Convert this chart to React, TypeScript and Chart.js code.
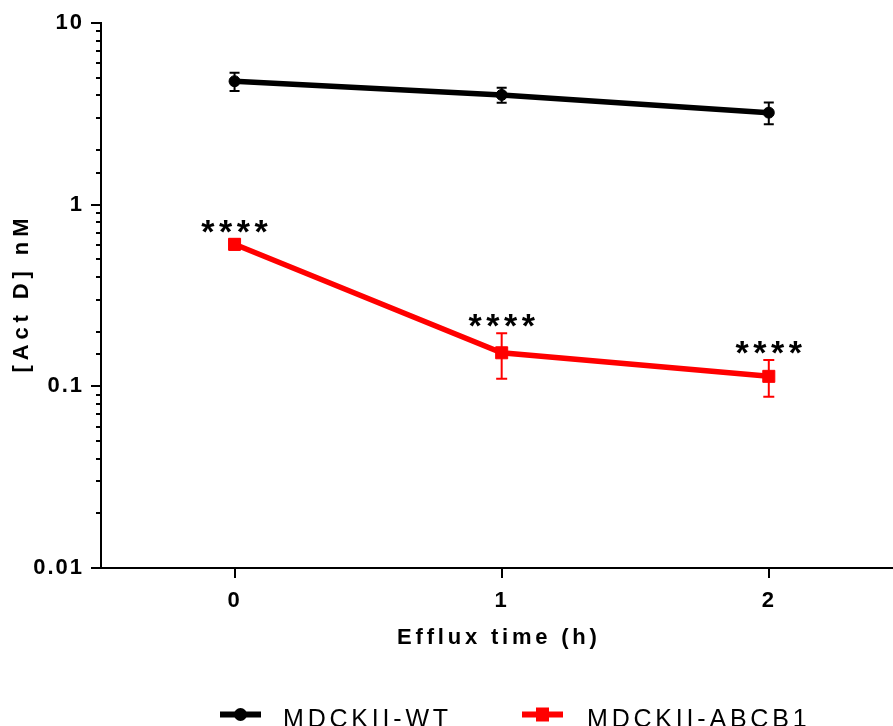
import React, { useEffect, useRef } from 'react';
import { Chart, registerables } from 'chart.js';

Chart.register(...registerables);

// ---- data ----
const timePoints = [0, 1, 2];
const wtMeans = [4.78, 4.02, 3.21];
const wtErrors = [0.55, 0.38, 0.44];
const abcb1Means = [0.605, 0.153, 0.1135];
const abcb1Errors = [0.04, 0.043, 0.026];
const significance = ['****', '****', '****'];
const seriesNames = ['MDCKII-WT', 'MDCKII-ABCB1'];
const yMajorTicks = [0.01, 0.1, 1, 10];
const yTickLabels = ['0.01', '0.1', '1', '10'];
const xTickValues = [0, 1, 2];
const xTickLabels = ['0', '1', '2'];
const xTitle = 'Efflux time (h)';
const yTitle = '[Act D] nM';

const FONT = '"Liberation Sans", Arial, Helvetica, sans-serif';

const isMajor = (v: number) => {
  const l = Math.log10(v);
  return Math.abs(l - Math.round(l)) < 1e-6;
};

const customPlugin = {
  id: 'customDecor',
  beforeDraw(chart: any) {
    chart.ctx.letterSpacing = '2px';
  },
  beforeDatasetsDraw(chart: any) {
    const ctx = chart.ctx;
    const ys = chart.scales.y;
    chart.data.datasets.forEach((ds: any, i: number) => {
      const meta = chart.getDatasetMeta(i);
      ctx.save();
      ctx.strokeStyle = ds.borderColor;
      ctx.lineWidth = 2;
      const cap = ds.capHalf;
      meta.data.forEach((pt: any, j: number) => {
        const v = ds.data[j].y;
        const e = ds.errors[j];
        const top = ys.getPixelForValue(v + e);
        const bot = ys.getPixelForValue(v - e);
        ctx.beginPath();
        ctx.moveTo(pt.x, top);
        ctx.lineTo(pt.x, bot);
        ctx.moveTo(pt.x - cap, top);
        ctx.lineTo(pt.x + cap, top);
        ctx.moveTo(pt.x - cap, bot);
        ctx.lineTo(pt.x + cap, bot);
        ctx.stroke();
      });
      ctx.restore();
    });
  },
  afterDraw(chart: any) {
    const ctx = chart.ctx;
    const xs = chart.scales.x;
    const ys = chart.scales.y;
    const area = chart.chartArea;
    ctx.save();
    ctx.letterSpacing = '0px';
    // tick marks
    ctx.strokeStyle = '#000';
    ctx.lineWidth = 2;
    ctx.beginPath();
    ys.ticks.forEach((t: any) => {
      const py = Math.round(ys.getPixelForValue(t.value));
      const len = isMajor(t.value) ? 10 : 5;
      ctx.moveTo(area.left - len, py);
      ctx.lineTo(area.left, py);
    });
    xs.ticks.forEach((t: any) => {
      const px = Math.round(xs.getPixelForValue(t.value));
      ctx.moveTo(px, area.bottom);
      ctx.lineTo(px, area.bottom + 10);
    });
    ctx.stroke();

    // axis titles
    ctx.fillStyle = '#000';
    ctx.font = `bold 22px ${FONT}`;
    ctx.textAlign = 'center';
    ctx.textBaseline = 'alphabetic';
    ctx.letterSpacing = '3.8px';
    ctx.fillText(xTitle, (area.left + area.right) / 2 + 1.9, area.bottom + 76);
    ctx.save();
    ctx.translate(28, (area.top + area.bottom) / 2);
    ctx.rotate(-Math.PI / 2);
    ctx.letterSpacing = '4.9px';
    ctx.fillText(yTitle, 2.4, 0);
    ctx.restore();

    // significance stars
    const ab = chart.data.datasets[1];
    const abMeta = chart.getDatasetMeta(1);
    ctx.font = `bold 34px ${FONT}`;
    ctx.letterSpacing = '4.5px';
    ctx.textAlign = 'center';
    ctx.textBaseline = 'alphabetic';
    abMeta.data.forEach((pt: any, j: number) => {
      const top = ys.getPixelForValue(ab.data[j].y + ab.errors[j]);
      ctx.fillText(significance[j], pt.x + 2.25, top + 4);
    });

    // legend
    const lineX = [220, 522];
    const textX = [283, 587];
    const ly = 714.5;
    ctx.font = `25px ${FONT}`;
    ctx.letterSpacing = '3.8px';
    ctx.textAlign = 'left';
    chart.data.datasets.forEach((ds: any, i: number) => {
      ctx.strokeStyle = ds.borderColor;
      ctx.fillStyle = ds.borderColor;
      ctx.lineWidth = 6;
      ctx.beginPath();
      ctx.moveTo(lineX[i], ly);
      ctx.lineTo(lineX[i] + 41, ly);
      ctx.stroke();
      const cx = lineX[i] + 20.5;
      ctx.beginPath();
      if (ds.pointStyle === 'circle') {
        ctx.arc(cx, ly, 6.5, 0, Math.PI * 2);
      } else {
        ctx.rect(cx - 6.5, ly - 7, 13, 14);
      }
      ctx.fill();
      ctx.fillStyle = '#000';
      ctx.fillText(ds.label, textX[i], 727);
    });
    ctx.restore();
    ctx.letterSpacing = '0px';
  },
};

export default function App() {
  const canvasRef = useRef<HTMLCanvasElement | null>(null);

  useEffect(() => {
    const canvas = canvasRef.current;
    if (!canvas) return;
    const chart = new Chart(canvas, {
      type: 'line',
      data: {
        datasets: [
          {
            label: seriesNames[0],
            data: timePoints.map((t, i) => ({ x: t, y: wtMeans[i] })),
            errors: wtErrors,
            capHalf: 5,
            borderColor: '#000000',
            backgroundColor: '#000000',
            borderWidth: 5.5,
            pointStyle: 'circle',
            pointRadius: 5.5,
            pointBorderWidth: 1,
            pointBackgroundColor: '#000000',
            pointBorderColor: '#000000',
            tension: 0,
          } as any,
          {
            label: seriesNames[1],
            data: timePoints.map((t, i) => ({ x: t, y: abcb1Means[i] })),
            errors: abcb1Errors,
            capHalf: 5.5,
            borderColor: '#ff0000',
            backgroundColor: '#ff0000',
            borderWidth: 5.5,
            pointStyle: 'rect',
            pointRadius: 8.5,
            pointBorderWidth: 1,
            pointBackgroundColor: '#ff0000',
            pointBorderColor: '#ff0000',
            tension: 0,
          } as any,
        ],
      },
      options: {
        responsive: false,
        animation: false,
        devicePixelRatio: 1,
        layout: { autoPadding: false, padding: { top: 23, right: 0, bottom: 0, left: 0 } },
        plugins: {
          legend: { display: false },
          tooltip: { enabled: false },
          title: { display: false },
        },
        scales: {
          x: {
            type: 'linear',
            min: -0.5,
            max: 2.465,
            afterBuildTicks: (s: any) => {
              s.ticks = xTickValues.map((v) => ({ value: v }));
            },
            afterFit: (s: any) => {
              s.height = 158;
              s.paddingLeft = 0;
              s.paddingRight = 0;
            },
            grid: { display: false, drawTicks: false },
            border: { display: true, color: '#000', width: 2 },
            ticks: {
              autoSkip: false,
              maxRotation: 0,
              padding: 20,
              color: '#000',
              font: { family: FONT, size: 22, weight: 'bold' },
              callback: (v: any) => {
                const idx = xTickValues.indexOf(Number(v));
                return idx >= 0 ? xTickLabels[idx] : '';
              },
            },
          },
          y: {
            type: 'logarithmic',
            min: 0.01,
            max: 10,
            afterFit: (s: any) => {
              s.width = 101;
              s.paddingTop = 0;
              s.paddingBottom = 0;
            },
            grid: { display: false, drawTicks: false },
            border: { display: true, color: '#000', width: 2 },
            ticks: {
              autoSkip: false,
              padding: 17,
              color: '#000',
              font: { family: FONT, size: 22, weight: 'bold' },
              callback: (v: any) => {
                const val = Number(v);
                const idx = yMajorTicks.findIndex((m) => Math.abs(m - val) / m < 1e-6);
                return idx >= 0 ? yTickLabels[idx] : '';
              },
            },
          },
        },
      } as any,
      plugins: [customPlugin],
    });
    return () => chart.destroy();
  }, []);

  return (
    <div style={{ position: 'absolute', left: 0, top: 0, width: 893, height: 726, overflow: 'hidden', background: '#fff' }}>
      <canvas ref={canvasRef} width={893} height={726} style={{ display: 'block', width: 893, height: 726 }} />
    </div>
  );
}
